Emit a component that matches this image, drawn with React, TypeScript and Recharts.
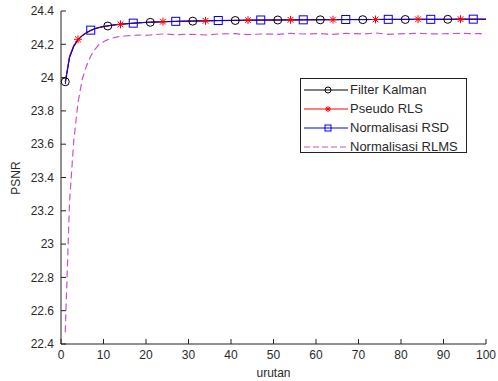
import { Label, Line, LineChart, XAxis, YAxis } from 'recharts';

const urutan = [1, 2, 3, 4, 5, 6, 7, 8, 9, 10, 11, 12, 13, 14, 15, 16, 17, 18, 19, 20, 21, 24, 27, 31, 34, 37, 41, 44, 47, 51, 54, 57, 61, 64, 67, 71, 74, 77, 81, 84, 87, 91, 94, 97, 100];

const filterKalman = [23.975, 24.12, 24.185, 24.225, 24.25, 24.268, 24.282, 24.293, 24.3, 24.306, 24.31, 24.314, 24.317, 24.32, 24.322, 24.324, 24.326, 24.328, 24.33, 24.331, 24.332, 24.335, 24.337, 24.339, 24.341, 24.342, 24.343, 24.344, 24.345, 24.346, 24.346, 24.347, 24.347, 24.348, 24.348, 24.348, 24.349, 24.349, 24.349, 24.35, 24.35, 24.35, 24.35, 24.35, 24.35];

const pseudoRls = [23.975, 24.13, 24.195, 24.23, 24.255, 24.272, 24.284, 24.294, 24.301, 24.307, 24.311, 24.315, 24.318, 24.32, 24.323, 24.325, 24.327, 24.329, 24.33, 24.332, 24.333, 24.336, 24.338, 24.34, 24.341, 24.343, 24.344, 24.345, 24.346, 24.346, 24.347, 24.347, 24.348, 24.348, 24.349, 24.349, 24.349, 24.35, 24.35, 24.35, 24.35, 24.35, 24.351, 24.351, 24.351];

const normalisasiRsd = [23.96, 24.12, 24.19, 24.226, 24.252, 24.27, 24.285, 24.295, 24.302, 24.307, 24.311, 24.315, 24.318, 24.321, 24.323, 24.325, 24.327, 24.329, 24.33, 24.332, 24.333, 24.336, 24.338, 24.34, 24.341, 24.343, 24.344, 24.345, 24.346, 24.346, 24.347, 24.347, 24.348, 24.348, 24.349, 24.349, 24.349, 24.35, 24.35, 24.35, 24.35, 24.35, 24.351, 24.351, 24.351];

const normalisasiRlms = [22.47, 23.25, 23.62, 23.85, 23.99, 24.07, 24.13, 24.17, 24.2, 24.215, 24.228, 24.237, 24.243, 24.248, 24.25, 24.252, 24.254, 24.255, 24.256, 24.254, 24.256, 24.262, 24.258, 24.26, 24.256, 24.262, 24.264, 24.258, 24.262, 24.26, 24.266, 24.262, 24.264, 24.26, 24.266, 24.262, 24.268, 24.26, 24.264, 24.266, 24.262, 24.264, 24.266, 24.264, 24.265];

const kalmanMarks = [1, 11, 21, 31, 41, 51, 61, 71, 81, 91];
const rlsMarks = [4, 14, 24, 34, 44, 54, 64, 74, 84, 94];
const rsdMarks = [7, 17, 27, 37, 47, 57, 67, 77, 87, 97];

const xTicks = [0, 10, 20, 30, 40, 50, 60, 70, 80, 90, 100];
const yTicks = [22.4, 22.6, 22.8, 23, 23.2, 23.4, 23.6, 23.8, 24, 24.2, 24.4];

const rows = urutan.map((u, i) => ({
  urutan: u,
  kalman: filterKalman[i],
  rls: pseudoRls[i],
  rsd: normalisasiRsd[i],
  rlms: normalisasiRlms[i],
}));

const AXIS = '#222';
const TEXT = '#2a2a2a';
const FONT = '"Liberation Sans", Arial, sans-serif';

type Shape = 'circle' | 'star' | 'square' | 'none';

const series = [
  { key: 'kalman', name: 'Filter Kalman', color: '#000000', dash: undefined, shape: 'circle' as Shape, marks: kalmanMarks },
  { key: 'rls', name: 'Pseudo RLS', color: '#ff0000', dash: undefined, shape: 'star' as Shape, marks: rlsMarks },
  { key: 'rsd', name: 'Normalisasi RSD', color: '#0000ee', dash: undefined, shape: 'square' as Shape, marks: rsdMarks },
  { key: 'rlms', name: 'Normalisasi RLMS', color: '#cc4fcc', dash: '7 4', shape: 'none' as Shape, marks: [] as number[] },
];

function Marker({ shape, cx, cy, color, r = 4 }: { shape: Shape; cx: number; cy: number; color: string; r?: number }) {
  if (shape === 'circle') return <circle cx={cx} cy={cy} r={r} fill="none" stroke={color} strokeWidth={1} />;
  if (shape === 'square') return <rect x={cx - r} y={cy - r} width={2 * r} height={2 * r} fill="none" stroke={color} strokeWidth={1} />;
  if (shape === 'star') {
    const d = r * 0.72;
    return (
      <g stroke={color} strokeWidth={1}>
        <line x1={cx - r} y1={cy} x2={cx + r} y2={cy} />
        <line x1={cx} y1={cy - r} x2={cx} y2={cy + r} />
        <line x1={cx - d} y1={cy - d} x2={cx + d} y2={cy + d} />
        <line x1={cx - d} y1={cy + d} x2={cx + d} y2={cy - d} />
      </g>
    );
  }
  return null;
}

function makeDot(shape: Shape, color: string, marks: number[]) {
  return (p: any) => {
    if (!marks.includes(p.payload?.urutan)) return <g key={`n-${p.index}`} />;
    return (
      <g key={`m-${p.index}`}>
        <Marker shape={shape} cx={p.cx} cy={p.cy} color={color} />
      </g>
    );
  };
}

function LegendBox() {
  const rowTop = [3, 22, 41, 60];
  return (
    <div
      style={{
        position: 'absolute',
        left: 300,
        top: 78,
        width: 167,
        height: 75,
        boxSizing: 'border-box',
        border: `1px solid ${AXIS}`,
        background: '#fff',
        fontFamily: FONT,
        fontSize: 13,
        color: TEXT,
      }}
    >
      {series.map((s, i) => (
        <div key={s.key} style={{ position: 'absolute', left: 0, top: rowTop[i], height: 16, width: 200, whiteSpace: 'nowrap' }}>
          <svg width={48} height={16} style={{ position: 'absolute', left: 0, top: 0 }}>
            <line x1={3} x2={47} y1={8} y2={8} stroke={s.color} strokeWidth={1} strokeDasharray={s.dash ? '6 3' : undefined} />
            <Marker shape={s.shape} cx={27} cy={8} color={s.color} r={3} />
          </svg>
          <span style={{ position: 'absolute', left: 49, top: 0, lineHeight: '16px' }}>{s.name}</span>
        </div>
      ))}
    </div>
  );
}

export default function App() {
  return (
    <div style={{ position: 'absolute', left: 0, top: 0, width: 498, height: 381, background: '#fff', fontFamily: FONT }}>
      <LineChart width={498} height={381} data={rows} margin={{ top: 11, right: 12, bottom: 0, left: 0 }}>
        <XAxis
          xAxisId="b"
          dataKey="urutan"
          type="number"
          domain={[0, 100]}
          ticks={xTicks}
          interval={0}
          height={37}
          tickSize={-5}
          tickMargin={11}
          axisLine={{ stroke: AXIS }}
          tickLine={{ stroke: AXIS }}
          tick={{ fill: TEXT, fontSize: 12, fontFamily: FONT }}
        >
          <Label value="urutan" position="insideBottom" offset={4} fill={TEXT} fontSize={12} fontFamily={FONT} />
        </XAxis>
        <XAxis
          xAxisId="t"
          orientation="top"
          dataKey="urutan"
          type="number"
          domain={[0, 100]}
          ticks={xTicks}
          interval={0}
          height={0}
          tickSize={-5}
          tick={false}
          axisLine={{ stroke: AXIS }}
          tickLine={{ stroke: AXIS }}
        />
        <YAxis
          yAxisId="l"
          type="number"
          domain={[22.4, 24.4]}
          ticks={yTicks}
          interval={0}
          width={61}
          tickSize={-5}
          tickMargin={12}
          axisLine={{ stroke: AXIS }}
          tickLine={{ stroke: AXIS }}
          tick={{ fill: TEXT, fontSize: 12, fontFamily: FONT }}
          tickFormatter={(v: number) => String(Math.round(v * 10) / 10)}
        >
          <Label
            content={() => (
              <text x={20} y={178} transform="rotate(-90 20 178)" textAnchor="middle" fill={TEXT} fontSize={12} fontFamily={FONT}>
                PSNR
              </text>
            )}
          />
        </YAxis>
        <YAxis
          yAxisId="r"
          orientation="right"
          type="number"
          domain={[22.4, 24.4]}
          ticks={yTicks}
          interval={0}
          width={0}
          tickSize={-5}
          tick={false}
          axisLine={{ stroke: AXIS }}
          tickLine={{ stroke: AXIS }}
        />
        {series.map((s) => (
          <Line
            key={s.key}
            xAxisId="b"
            yAxisId="l"
            type="linear"
            dataKey={s.key}
            name={s.name}
            stroke={s.color}
            strokeWidth={s.dash ? 1.2 : 1}
            strokeDasharray={s.dash}
            dot={makeDot(s.shape, s.color, s.marks)}
            activeDot={false}
            isAnimationActive={false}
          />
        ))}
      </LineChart>
      <LegendBox />
    </div>
  );
}
